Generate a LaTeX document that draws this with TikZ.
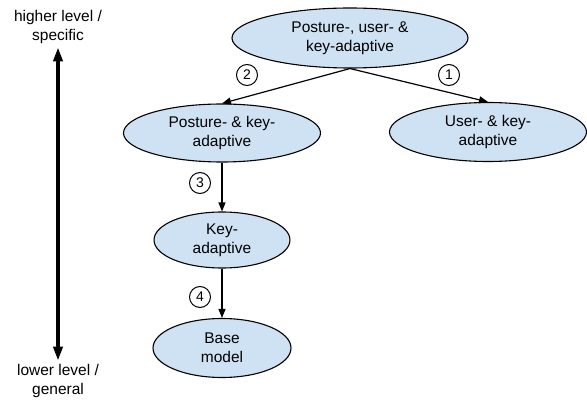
\documentclass[tikz,border=0pt]{standalone}
\usepackage{fontspec}
\setmainfont{Liberation Sans}
\usepackage{tikz}
\usetikzlibrary{arrows.meta,shapes.geometric,positioning}
\usepackage{xcolor}
\definecolor{adlightblue}{RGB}{207,226,243}
\tikzstyle{arrow} = [line width=1.2pt,-{Triangle[length=9pt,width=7pt]}]
\tikzstyle{levelarrow} = [line width=3.8pt,{Triangle[length=14pt,width=9pt]}-{Triangle[length=14pt,width=9pt]}]
\tikzstyle{model} = [ellipse, draw, line width=1.1pt, fill=adlightblue, inner sep=0pt, align=center]
\tikzstyle{stepnum} = [circle, draw, line width=1pt, minimum size=21pt, inner sep=0pt, font=\fontsize{14}{14}\selectfont]

\begin{document}
\begin{tikzpicture}[x=1pt, y=-1pt,
    every node/.style={font=\fontsize{15.5}{19}\selectfont}]
\useasboundingbox (0,0) rectangle (587,401);

% Top node
\node (pua) [model, minimum width=236pt, minimum height=60pt] at (350,38) {Posture-, user- \&\\key-adaptive};

% Second level
\node (pk) [model, minimum width=197pt, minimum height=58pt] at (222,133) {Posture- \& key-\\adaptive};
\node (uk) [model, minimum width=197pt, minimum height=59pt] at (488,132) {User- \& key-\\adaptive};

% Lower levels
\node (key) [model, minimum width=136pt, minimum height=56pt] at (222,240) {Key-\\adaptive};
\node (base) [model, minimum width=138pt, minimum height=59pt] at (222,348) {Base\\model};

% Step numbers
\node (n1) [stepnum] at (449,75) {1};
\node (n2) [stepnum] at (247,75) {2};
\node (n3) [stepnum] at (200,183) {3};
\node (n4) [stepnum] at (200,297) {4};

% Level axis
\node (higher) [align=center] at (58,27) {higher level /\\specific};
\node (lower) [align=center] at (58,381) {lower level /\\general};
\draw[levelarrow] (lower) -- (higher);

% Connections
\draw[arrow] (pua.south) -- (pk.north);
\draw[arrow] (pua.south) -- (uk.north);
\draw[arrow] (pk.south) -- (key.north);
\draw[arrow] (key.south) -- (base.north);
\end{tikzpicture}
\end{document}
